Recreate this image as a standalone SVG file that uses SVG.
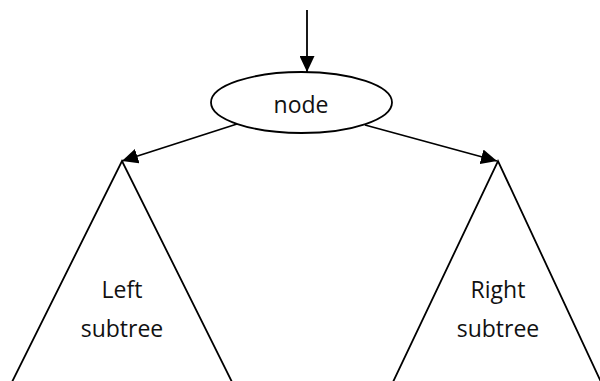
<svg xmlns="http://www.w3.org/2000/svg" width="600" height="381" viewBox="0 0 600 381">
<style>
.s{fill:none;stroke:#000;stroke-width:1.8}
.t{font-family:"Open Sans","Liberation Sans",sans-serif;font-size:23px;fill:#111;text-anchor:middle}
</style>
<defs>
<marker id="ah" viewBox="0 0 16 15" refX="16" refY="7.5" markerWidth="16" markerHeight="15" markerUnits="userSpaceOnUse" orient="auto">
<path d="M0,0 L16,7.5 L0,15 Z" fill="#000"/>
</marker>
</defs>
<rect width="600" height="381" fill="#fff"/>
<g id="connectors">
<line class="s" x1="307" y1="10" x2="307" y2="72" marker-end="url(#ah)"/>
<line class="s" x1="237" y1="124" x2="122" y2="161" marker-end="url(#ah)"/>
<line class="s" x1="365" y1="125" x2="497" y2="161" marker-end="url(#ah)"/>
</g>
<g id="node">
<ellipse class="s" cx="301.5" cy="102.5" rx="90.5" ry="30.5"/>
<text class="t" x="301" y="113">node</text>
</g>
<g id="left-subtree">
<polyline class="s" points="12,382 122,161 232,382"/>
<text class="t" x="122" y="298">Left</text>
<text class="t" x="122" y="337">subtree</text>
</g>
<g id="right-subtree">
<polyline class="s" points="393,382 498,161 601,382"/>
<text class="t" x="498" y="298">Right</text>
<text class="t" x="498" y="337">subtree</text>
</g>
</svg>
